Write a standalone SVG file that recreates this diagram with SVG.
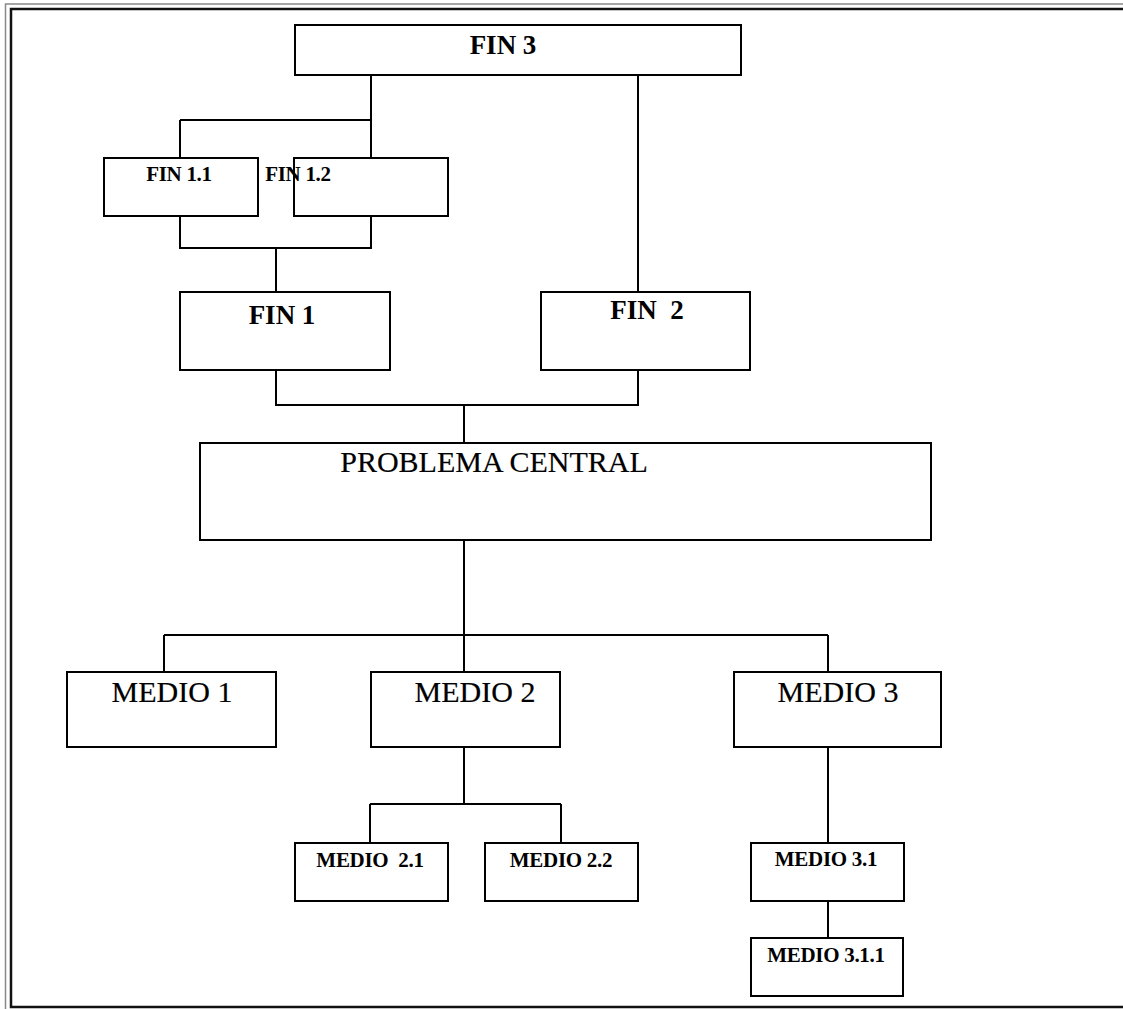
<svg xmlns="http://www.w3.org/2000/svg" width="1123" height="1009" viewBox="0 0 1123 1009">
<style>
.box{fill:#fff;stroke:#000;stroke-width:2}
.ln{fill:none;stroke:#000;stroke-width:2}
.big{font-family:"Liberation Serif",serif;font-size:30px;fill:#000;text-anchor:middle;stroke:#000;stroke-width:0.2}
.bb{font-family:"Liberation Serif",serif;font-size:27px;font-weight:bold;fill:#000;text-anchor:middle}
.sm{font-family:"Liberation Serif",serif;font-size:21px;font-weight:bold;fill:#000;text-anchor:middle;letter-spacing:-0.3px}
</style>
<rect width="1123" height="1009" fill="#fff"/>
<g id="frame">
<path d="M1130,4 H5.5 V1009" fill="none" stroke="#888" stroke-width="1.5"/>
<path d="M1130,9 H11 V1007 H1130" fill="none" stroke="#111" stroke-width="2.5"/>
</g>
<g id="connectors">
<path class="ln" d="M371,76 V120 M180,120 H371 M180,120 V158 M371,120 V158"/>
<path class="ln" d="M638,76 V292"/>
<path class="ln" d="M180,216 V248 H371 V216 M276,248 V292"/>
<path class="ln" d="M276,370 V405 H638 V370 M464,405 V443"/>
<path class="ln" d="M464,540 V635 M164,635 H828 M164,635 V672 M464,635 V672 M828,635 V672"/>
<path class="ln" d="M464,747 V804 M370,804 H561 M370,804 V843 M561,804 V843"/>
<path class="ln" d="M828,747 V843 M828,901 V938"/>
</g>
<g id="fin3"><rect class="box" x="295" y="25" width="446" height="50"/><text class="bb" x="503" y="54" font-size="28">FIN 3</text></g>
<g id="fin11"><rect class="box" x="104" y="158" width="154" height="58"/><text class="sm" x="179" y="181">FIN 1.1</text></g>
<g id="fin12"><rect class="box" x="294" y="158" width="154" height="58"/><text class="sm" x="298" y="181" text-anchor="start">FIN 1.2</text></g>
<g id="fin1"><rect class="box" x="180" y="292" width="210" height="78"/><text class="bb" x="282" y="324">FIN 1</text></g>
<g id="fin2"><rect class="box" x="541" y="292" width="209" height="78"/><text class="bb" x="647" y="319" xml:space="preserve">FIN  2</text></g>
<g id="problema"><rect class="box" x="200" y="443" width="731" height="97"/><text class="big" x="494" y="472" font-size="32">PROBLEMA CENTRAL</text></g>
<g id="medio1"><rect class="box" x="67" y="672" width="209" height="75"/><text class="big" x="172" y="702">MEDIO 1</text></g>
<g id="medio2"><rect class="box" x="371" y="672" width="189" height="75"/><text class="big" x="475" y="702">MEDIO 2</text></g>
<g id="medio3"><rect class="box" x="734" y="672" width="207" height="75"/><text class="big" x="838" y="702">MEDIO 3</text></g>
<g id="medio21"><rect class="box" x="295" y="843" width="153" height="58"/><text class="sm" x="370" y="867" xml:space="preserve">MEDIO  2.1</text></g>
<g id="medio22"><rect class="box" x="485" y="843" width="153" height="58"/><text class="sm" x="561" y="867">MEDIO 2.2</text></g>
<g id="medio31"><rect class="box" x="751" y="843" width="153" height="58"/><text class="sm" x="826" y="866">MEDIO 3.1</text></g>
<g id="medio311"><rect class="box" x="751" y="938" width="152" height="58"/><text class="sm" x="826" y="962">MEDIO 3.1.1</text></g>
</svg>
